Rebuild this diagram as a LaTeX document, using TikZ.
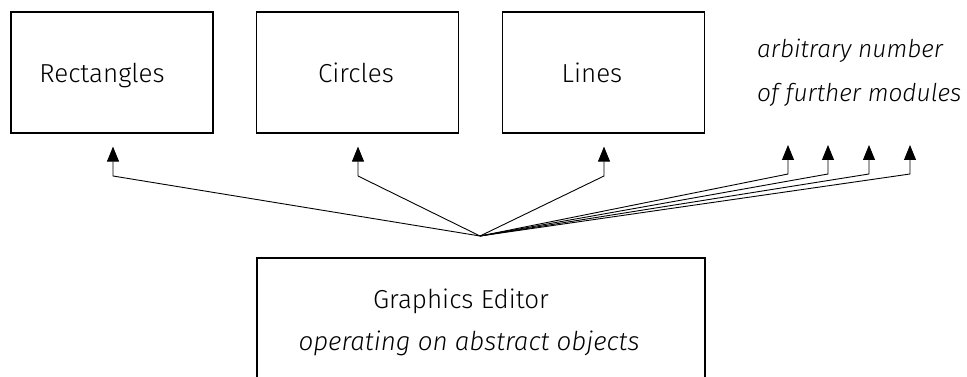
\documentclass[tikz,border=0pt]{standalone}
\usepackage{fontspec}
\setmainfont{Fira Sans}[UprightFont=* Light, ItalicFont=* Light Italic]
\usetikzlibrary{arrows.meta}
\begin{document}
\begin{tikzpicture}[x=1pt,y=-1pt,
  modbox/.style={draw, line width=1.2pt, minimum width=202pt, minimum height=121pt, inner sep=0pt},
  lbl/.style={font=\fontsize{26}{30}\selectfont, anchor=base, inner sep=0pt},
  note/.style={font=\fontsize{24.5}{30}\selectfont\itshape, anchor=base west, inner sep=0pt},
  conn/.style={line width=0.9pt},
  arr/.style={conn, -{Triangle[length=15pt,width=12pt]}},
  frame/.style={line width=1.2pt}]
\useasboundingbox (0,0) rectangle (967,377);
% module boxes
\node[modbox] (R) at (112,72.5) {};
\node[modbox] (C) at (357.5,72.5) {};
\node[modbox] (L) at (603.5,72.5) {};
\node[lbl] (Rt) at (102,83) {Rectangles};
\node[lbl] (Ct) at (356,83) {Circles};
\node[lbl] (Lt) at (592,83) {Lines};
\node[note] (F1) at (757,58) {arbitrary number};
\node[note] (F2) at (757,102) {of further modules};
% graphics editor (open at the bottom)
\coordinate (G1) at (257,377);
\coordinate (G2) at (257,258);
\coordinate (G3) at (705,258);
\coordinate (G4) at (705,377);
\draw[frame] (G1) -- (G2) -- (G3) -- (G4);
\node[lbl] (Gt) at (461,308) {Graphics Editor};
\node[lbl] (Gi) at (469,350) {\itshape operating on abstract objects};
% connectors
\coordinate (hub) at (480,236);
\coordinate (bR) at (113,176);
\coordinate (bC) at (358,176);
\coordinate (bL) at (604,176);
\draw[arr, shorten >=13pt] (hub) -- (bR) -- (bR |- R.south);
\draw[arr, shorten >=13pt] (hub) -- (bC) -- (bC |- C.south);
\draw[arr, shorten >=13pt] (hub) -- (bL) -- (bL |- L.south);
\coordinate (b1) at (788,174);
\coordinate (b2) at (828,174);
\coordinate (b3) at (869,174);
\coordinate (b4) at (910,174);
\coordinate (t1) at (788,145);
\coordinate (t2) at (828,145);
\coordinate (t3) at (869,145);
\coordinate (t4) at (910,145);
\draw[arr] (hub) -- (b1) -- (t1);
\draw[arr] (hub) -- (b2) -- (t2);
\draw[arr] (hub) -- (b3) -- (t3);
\draw[arr] (hub) -- (b4) -- (t4);
\end{tikzpicture}
\end{document}
